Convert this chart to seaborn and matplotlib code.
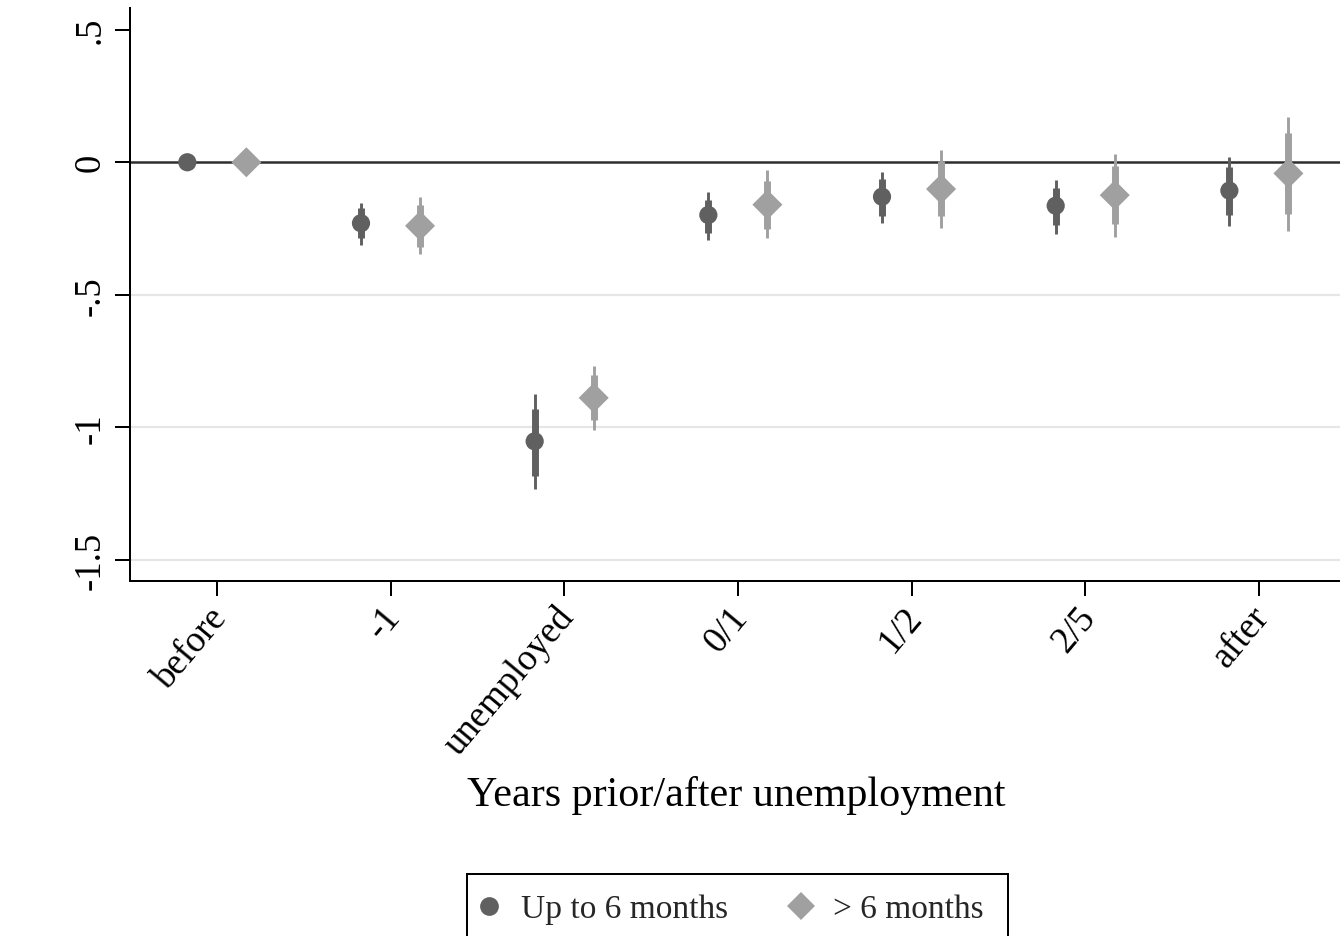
import numpy as np
import pandas as pd
import matplotlib
matplotlib.use("Agg")
import matplotlib.pyplot as plt
from matplotlib.lines import Line2D
from matplotlib.patches import Rectangle
from matplotlib.transforms import ScaledTranslation
import seaborn as sns

# ---- data -------------------------------------------------------------
categories = ["before", "-1", "unemployed", "0/1", "1/2", "2/5", "after"]
groups = ["Up to 6 months", "> 6 months"]

coef_short = [0.0, -0.230, -1.053, -0.199, -0.130, -0.164, -0.107]
lo95_short = [np.nan, -0.313, -1.233, -0.293, -0.230, -0.269, -0.240]
hi95_short = [np.nan, -0.155, -0.876, -0.113, -0.038, -0.067, 0.021]
lo90_short = [np.nan, -0.287, -1.185, -0.267, -0.202, -0.237, -0.199]
hi90_short = [np.nan, -0.174, -0.930, -0.141, -0.063, -0.097, -0.019]

coef_long = [0.0, -0.240, -0.889, -0.160, -0.101, -0.124, -0.042]
lo95_long = [np.nan, -0.347, -1.009, -0.287, -0.248, -0.281, -0.259]
hi95_long = [np.nan, -0.132, -0.767, -0.028, 0.047, 0.030, 0.172]
lo90_long = [np.nan, -0.319, -0.974, -0.252, -0.204, -0.233, -0.196]
hi90_long = [np.nan, -0.161, -0.801, -0.070, 0.006, -0.013, 0.110]

ytick_values = [-1.5, -1.0, -0.5, 0.0, 0.5]
ytick_labels = ["-1.5", "-1", "-.5", "0", ".5"]
grid_values = [-1.5, -1.0, -0.5]

# ---- styling ----------------------------------------------------------
colors = {"Up to 6 months": "#606060", "> 6 months": "#a0a0a0"}
markers = {"Up to 6 months": "o", "> 6 months": "D"}
marker_area = {"Up to 6 months": 172, "> 6 months": 234}
offsets = {"Up to 6 months": -0.17, "> 6 months": 0.17}

sns.set_theme(style="white")
plt.rcParams["font.family"] = ["Liberation Serif", "DejaVu Serif"]

series = {
    "Up to 6 months": (coef_short, lo95_short, hi95_short, lo90_short, hi90_short),
    "> 6 months": (coef_long, lo95_long, hi95_long, lo90_long, hi90_long),
}
rows = []
for g in groups:
    coef, lo95, hi95, lo90, hi90 = series[g]
    for i, cat in enumerate(categories):
        rows.append(dict(group=g, category=cat, pos=i + offsets[g],
                         coef=coef[i], lo95=lo95[i], hi95=hi95[i],
                         lo90=lo90[i], hi90=hi90[i]))
df = pd.DataFrame(rows)

W, H = 1340, 937
fig = plt.figure(figsize=(W / 100, H / 100), dpi=100)
ax = fig.add_axes([130 / W, 1 - 581.7 / H, 1 - 130 / W, (581.7 - 9.3) / H])

# reference lines
for yv in grid_values:
    ax.axhline(yv, color="#e6e6e6", lw=1.6, zorder=0)
ax.axhline(0, color="#2e2e2e", lw=1.8, zorder=1)

# confidence intervals: thin = 95%, thick = 90%
for g, sub in df.groupby("group", sort=False):
    ok = sub.dropna(subset=["lo95"])
    ax.vlines(ok["pos"], ok["lo95"], ok["hi95"], color=colors[g], lw=2.1,
              zorder=2, capstyle="butt")
    ax.vlines(ok["pos"], ok["lo90"], ok["hi90"], color=colors[g], lw=5.0,
              zorder=2, capstyle="butt")

# point estimates
sns.scatterplot(data=df, x="pos", y="coef", hue="group", style="group",
                size="group", palette=colors, markers=markers,
                sizes=marker_area, linewidth=0, legend=False, ax=ax, zorder=3)

ax.set_xlim(-0.5, 6.467)
ax.set_ylim(-1.579, 0.581)
ax.set_xticks(range(len(categories)))
ax.set_xticklabels(categories, rotation=50, ha="right", va="center",
                   rotation_mode="anchor", fontsize=26.5)
ax.set_yticks(ytick_values)
ax.set_yticklabels(ytick_labels, rotation=90, va="center", fontsize=26.5)
ax.tick_params(axis="both", length=10.8, width=1.44, color="black",
               labelcolor="black", direction="out")
ax.tick_params(axis="y", pad=5)
ax.tick_params(axis="x", pad=11)
ax.tick_params(left=True, bottom=True)
shift = ScaledTranslation(4 / 100, 0, fig.dpi_scale_trans)
for lab in ax.get_xticklabels():
    lab.set_transform(lab.get_transform() + shift)
ax.set_xlabel("")
ax.set_ylabel("")
for side in ["top", "right"]:
    ax.spines[side].set_visible(False)
for side in ["left", "bottom"]:
    ax.spines[side].set_color("black")
    ax.spines[side].set_linewidth(1.44)

fig.text(736.5 / W, 1 - 806 / H, "Years prior/after unemployment",
         ha="center", va="baseline", fontsize=30.3, color="black")

# legend
handles = [
    Line2D([], [], ls="none", marker="o", ms=13.5, mew=0,
           color=colors["Up to 6 months"]),
    Line2D([], [], ls="none", marker="D", ms=14.5, mew=0,
           color=colors["> 6 months"]),
]
fig.legend(handles, groups, loc="center left",
           bbox_to_anchor=(472 / W, 1 - 910 / H), ncol=2, frameon=False,
           borderpad=0, borderaxespad=0, handlelength=1.0,
           handletextpad=0.47, columnspacing=1.68, fontsize=24.0)
fig.patches.append(Rectangle((466.7 / W, -0.05), (1008.3 - 466.7) / W,
                             (1 - 875 / H) + 0.05, transform=fig.transFigure,
                             fill=False, edgecolor="black", lw=1.44))

fig.savefig("out.png", dpi=100)
